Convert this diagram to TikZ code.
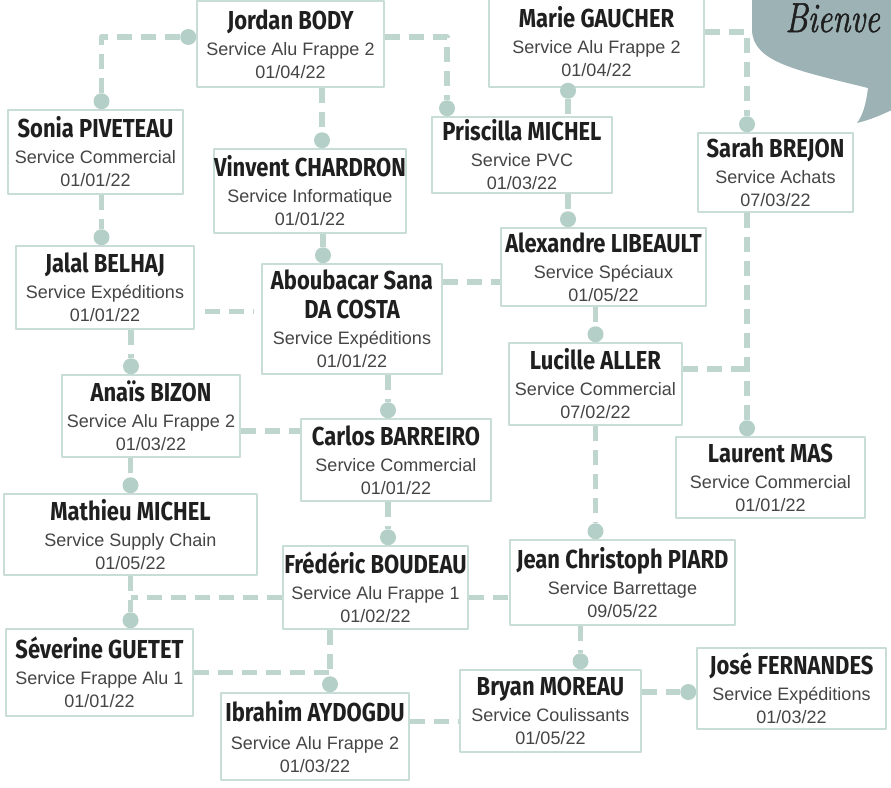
\documentclass[tikz,border=0pt]{standalone}
\usepackage{fontspec}
\usetikzlibrary{arrows.meta}
\newfontfamily\namefont[FakeStretch=0.845]{Fira Sans}
\newfontfamily\servfont{Liberation Sans}
\newfontfamily\hellofont[FakeStretch=0.78,FakeBold=1.2]{Latin Modern Roman}
\newcommand\who[1]{{\namefont\bfseries\fontsize{26}{26}\selectfont\color{qqqqqq}#1}}

\begin{document}
\begin{tikzpicture}[line join=round,x=1pt,y=-1pt,>={Circle[length=16pt,line width=0pt,color=b4cfc7]},
  card/.style={draw=c8ddd6,line width=1.5pt,fill=white,inner sep=0pt,align=center,text=wqwqwq,font=\servfont\fontsize{18}{23}\selectfont},
  link/.style={line width=5.5pt,color=bed6ce,dash pattern=on 15pt off 9pt}]
\definecolor{c8ddd6}{rgb}{0.784,0.867,0.839}
\definecolor{bed6ce}{rgb}{0.745,0.839,0.808}
\definecolor{b4cfc7}{rgb}{0.706,0.812,0.780}
\definecolor{9cb2b5}{rgb}{0.612,0.698,0.710}
\definecolor{wqwqwq}{rgb}{0.27,0.27,0.27}
\definecolor{qqqqqq}{rgb}{0.12,0.12,0.12}
\useasboundingbox (0,0) rectangle (891,787);
\clip (0,0) rectangle (891,787);
% bulle
\fill[color=9cb2b5] (752,-10) -- (752,30) .. controls (753,62) and (795,70) .. (868,88) .. controls (866,104) and (863,115) .. (857,123) .. controls (870,120) and (884,114) .. (900,106) -- (900,-10) -- cycle;
\node[anchor=base west,inner sep=0pt,text=qqqqqq,font=\hellofont\itshape\fontsize{42}{42}\selectfont] (hello) at (785,32) {Bienve};
\coordinate (trunk) at (747,0);
% cartes
\node[card,minimum width=187pt,minimum height=86pt] (jordan) at (290.5,44) {\who{Jordan BODY}\\[3pt] Service Alu Frappe 2\\ 01/04/22};
\node[card,minimum width=215pt,minimum height=90pt] (marie) at (596.5,42) {\who{Marie GAUCHER}\\[3pt] Service Alu Frappe 2\\ 01/04/22};
\node[card,minimum width=175pt,minimum height=84pt] (sonia) at (95.5,152) {\who{Sonia PIVETEAU}\\[3pt] Service Commercial\\ 01/01/22};
\node[card,minimum width=192pt,minimum height=84pt] (vinvent) at (310,191) {\who{Vinvent CHARDRON}\\[3pt] Service Informatique\\ 01/01/22};
\node[card,minimum width=180pt,minimum height=76pt] (priscilla) at (522,155) {\who{Priscilla MICHEL}\\[3pt] Service PVC\\ 01/03/22};
\node[card,minimum width=155pt,minimum height=79pt] (sarah) at (775.5,172.5) {\who{Sarah BREJON}\\[3pt] Service Achats\\ 07/03/22};
\node[card,minimum width=178pt,minimum height=83pt] (jalal) at (105,287.5) {\who{Jalal BELHAJ}\\[3pt] Service Exp\'editions\\ 01/01/22};
\node[card,minimum width=180pt,minimum height=110pt] (aboubacar) at (352,319) {\who{Aboubacar Sana}\\[6pt]\who{DA COSTA}\\[3pt] Service Exp\'editions\\ 01/01/22};
\node[card,minimum width=205pt,minimum height=78pt] (alexandre) at (603.5,267) {\who{Alexandre LIBEAULT}\\[3pt] Service Sp\'eciaux\\ 01/05/22};
\node[card,minimum width=173pt,minimum height=82pt] (lucille) at (595.5,384) {\who{Lucille ALLER}\\[3pt] Service Commercial\\ 07/02/22};
\node[card,minimum width=189pt,minimum height=81pt] (laurent) at (770.5,477.5) {\who{Laurent MAS}\\[3pt] Service Commercial\\ 01/01/22};
\node[card,minimum width=178pt,minimum height=82pt] (anais) at (151,416) {\who{Ana\"is BIZON}\\[3pt] Service Alu Frappe 2\\ 01/03/22};
\node[card,minimum width=190pt,minimum height=82pt] (carlos) at (396,460) {\who{Carlos BARREIRO}\\[3pt] Service Commercial\\ 01/01/22};
\node[card,minimum width=253pt,minimum height=81pt] (mathieu) at (130.5,534.5) {\who{Mathieu MICHEL}\\[3pt] Service Supply Chain\\ 01/05/22};
\node[card,minimum width=185pt,minimum height=83pt] (frederic) at (375.5,587.5) {\who{Fr\'ed\'eric BOUDEAU}\\[3pt] Service Alu Frappe 1\\ 01/02/22};
\node[card,minimum width=225pt,minimum height=85pt] (jean) at (622.5,582.5) {\who{Jean Christoph PIARD}\\[3pt] Service Barrettage\\ 09/05/22};
\node[card,minimum width=187pt,minimum height=87pt] (severine) at (99.5,672.5) {\who{S\'everine GUETET}\\[3pt] Service Frappe Alu 1\\ 01/01/22};
\node[card,minimum width=188pt,minimum height=87pt] (ibrahim) at (315,736.5) {\who{Ibrahim AYDOGDU}\\[5pt] Service Alu Frappe 2\\ 01/03/22};
\node[card,minimum width=181pt,minimum height=82pt] (bryan) at (550.5,711) {\who{Bryan MOREAU}\\[3pt] Service Coulissants\\ 01/05/22};
\node[card,minimum width=189pt,minimum height=81pt] (jose) at (791.5,688.5) {\who{Jos\'e FERNANDES}\\[3pt] Service Exp\'editions\\ 01/03/22};
% liens
\draw[link,<->] ([yshift=7pt]jordan.west) -| ([xshift=6pt]sonia.north);
\draw[link,->] ([yshift=7pt]jordan.east) -| ([xshift=-75pt]priscilla.north);
\draw[link,->] ([xshift=12pt]vinvent.north |- jordan.south) -- ([xshift=12pt]vinvent.north);
\draw[link,<-,shorten <=-5pt] ([xshift=-28.5pt]marie.south) -- ([xshift=-28.5pt]marie.south |- priscilla.north);
\draw[link,->] ([yshift=10pt]marie.east) -| (sarah.north -| trunk);
\draw[link,->] ([xshift=6pt]sonia.south) -- ([xshift=6pt]sonia.south |- jalal.north);
\draw[link,->] ([xshift=13pt]vinvent.south) -- ([xshift=13pt]vinvent.south |- aboubacar.north);
\draw[link,shorten <=10pt,shorten >=8pt] ([yshift=-24pt]jalal.east) -- ([yshift=-24pt]jalal.east -| aboubacar.west);
\draw[link] ([yshift=37pt]aboubacar.east) -- ([yshift=37pt]aboubacar.east -| alexandre.west);
\draw[link,->] ([xshift=46pt]priscilla.south) -- ([xshift=46pt]priscilla.south |- alexandre.north);
\draw[link,->] (lucille.north |- alexandre.south) -- (lucille.north);
\draw[link,->] (sarah.south -| trunk) -- (laurent.north -| trunk);
\draw[link] ([yshift=15pt]lucille.east) -- ([yshift=15pt]lucille.east -| trunk);
\draw[link,->] ([xshift=26pt]jalal.south) -- ([xshift=26pt]jalal.south |- anais.north);
\draw[link,->] ([xshift=36pt]aboubacar.south) -- ([xshift=36pt]aboubacar.south |- carlos.north);
\draw[link] ([yshift=-15pt]anais.east) -- ([yshift=-15pt]anais.east -| carlos.west);
\draw[link,->] (mathieu.north |- anais.south) -- (mathieu.north);
\draw[link,->] ([xshift=-8pt]carlos.south) -- ([xshift=-8pt]carlos.south |- frederic.north);
\draw[link,->] (lucille.south) -- (lucille.south |- jean.north);
\draw[link] ([yshift=-10pt]frederic.east) -- ([yshift=-10pt]frederic.east -| jean.west);
\draw[link,->] (mathieu.south) -- (mathieu.south |- severine.north);
\draw[link] ([yshift=-10pt]frederic.west) -- ([yshift=-10pt]frederic.west -| mathieu.south);
\draw[link,->] ([xshift=15pt]ibrahim.north |- frederic.south) -- ([xshift=15pt]ibrahim.north);
\draw[link] (severine.east) -- ([xshift=15pt]severine.east -| ibrahim.north);
\draw[link,->] ([xshift=30pt]bryan.north |- jean.south) -- ([xshift=30pt]bryan.north);
\draw[link] ([yshift=15pt]ibrahim.east) -- ([yshift=15pt]ibrahim.east -| bryan.west);
\draw[link,->] ([yshift=19pt]bryan.east) -- ([yshift=19pt]bryan.east -| jose.west);
\end{tikzpicture}
\end{document}
